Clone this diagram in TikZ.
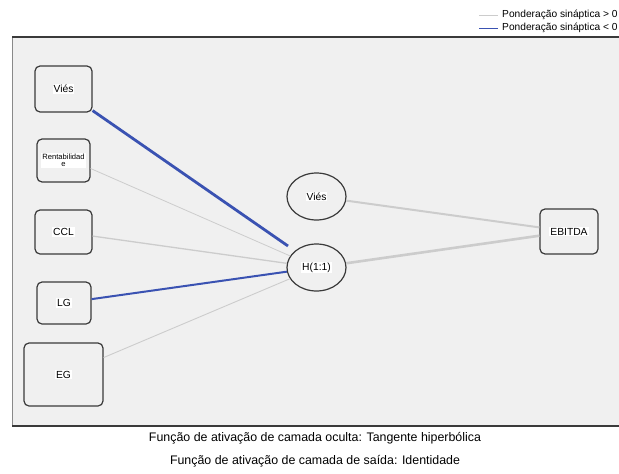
\documentclass[tikz,border=0pt]{standalone}
\usepackage{fontspec}
\setmainfont{Liberation Sans}
\usetikzlibrary{shapes.geometric}
\definecolor{panel}{HTML}{F0F0F0}
\definecolor{nodeline}{HTML}{3A3A3A}
\definecolor{poswt}{HTML}{CCCCCC}
\definecolor{negwt}{HTML}{3A52B2}
\tikzset{
  inbox/.style={draw=nodeline, line width=1.2pt, rounded corners=5pt, fill=panel, inner sep=0pt},
  hidnode/.style={draw=nodeline, line width=1.2pt, ellipse, fill=panel, minimum width=59pt, minimum height=47pt, inner sep=0pt},
  lbl/.style={fill=white, inner sep=1pt, font=\fontsize{10.3}{11}\selectfont},
  posline/.style={draw=poswt, line width=1pt},
  negline/.style={draw=negwt, line width=2pt},
  captxt/.style={font=\fontsize{12.4}{14}\selectfont, anchor=center}
}
\begin{document}
\begin{tikzpicture}[x=1pt,y=-1pt]
\useasboundingbox (0,0) rectangle (619,474);
\fill[white] (0,0) rectangle (619,474);
% panel
\fill[panel] (12,37) rectangle (619,426);
\draw[nodeline!60, line width=0.8pt] (12,37) -- (12,426);
\draw[nodeline, line width=1.4pt] (12,37) -- (619,37);
\draw[nodeline, line width=1.4pt] (12,426) -- (619,426);
% legend
\coordinate (lp1) at (479,15); \coordinate (lp2) at (498,15);
\coordinate (ln1) at (479,28); \coordinate (ln2) at (498,28);
\draw[poswt, line width=1pt] (lp1) -- (lp2);
\draw[negwt, line width=1pt] (ln1) -- (ln2);
\node[anchor=west, inner sep=0pt, font=\fontsize{10.2}{11}\selectfont] (lpt) at (502,15) {Ponderação sináptica > 0};
\node[anchor=west, inner sep=0pt, font=\fontsize{10.2}{11}\selectfont] (lnt) at (502,28) {Ponderação sináptica < 0};
% input nodes
\node[inbox, minimum width=57pt, minimum height=46pt] (vi) at (63.5,89) {};
\node[lbl] at (vi) {Viés};
\node[inbox, minimum width=53pt, minimum height=43pt] (re) at (63.5,160.5) {};
\node[lbl, font=\fontsize{7.6}{7.5}\selectfont, align=center] at (re) {Rentabilidad\\e};
\node[inbox, minimum width=57pt, minimum height=44pt] (ccl) at (63.5,232) {};
\node[lbl] at (ccl) {CCL};
\node[inbox, minimum width=54pt, minimum height=42pt] (lg) at (64,303) {};
\node[lbl] at (lg) {LG};
\node[inbox, minimum width=79pt, minimum height=63pt] (eg) at (63.5,374.5) {};
\node[lbl] at (eg) {EG};
% hidden
\node[hidnode] (hb) at (316.5,196.5) {};
\node[lbl] at (hb) {Viés};
\node[hidnode] (h) at (316.5,267.5) {};
\node[lbl] at (h) {H(1:1)};
% output
\node[inbox, minimum width=58pt, minimum height=45pt] (out) at (569,231.5) {};
\node[lbl] at (out) {EBITDA};
% connectors
\coordinate (vend) at (288,246);
\draw[negline, line width=2.8pt] (vi.south east) ++(0,-2) -- (vend);
\draw[posline, line width=0.8pt] (re.east) ++(0,8) -- (h);
\draw[posline, line width=1.3pt] (ccl) -- (h);
\draw[negline] (lg) -- (h);
\draw[posline, line width=0.9pt] (eg) -- (h);
\draw[posline, line width=2pt] (hb) -- (out);
\draw[posline, line width=2.6pt] (h) -- (out);
% captions
\node[captxt] (c1) at (315,438) {Função de ativação de camada oculta: Tangente hiperbólica};
\node[captxt] (c2) at (315,461) {Função de ativação de camada de saída: Identidade};
\end{tikzpicture}
\end{document}
